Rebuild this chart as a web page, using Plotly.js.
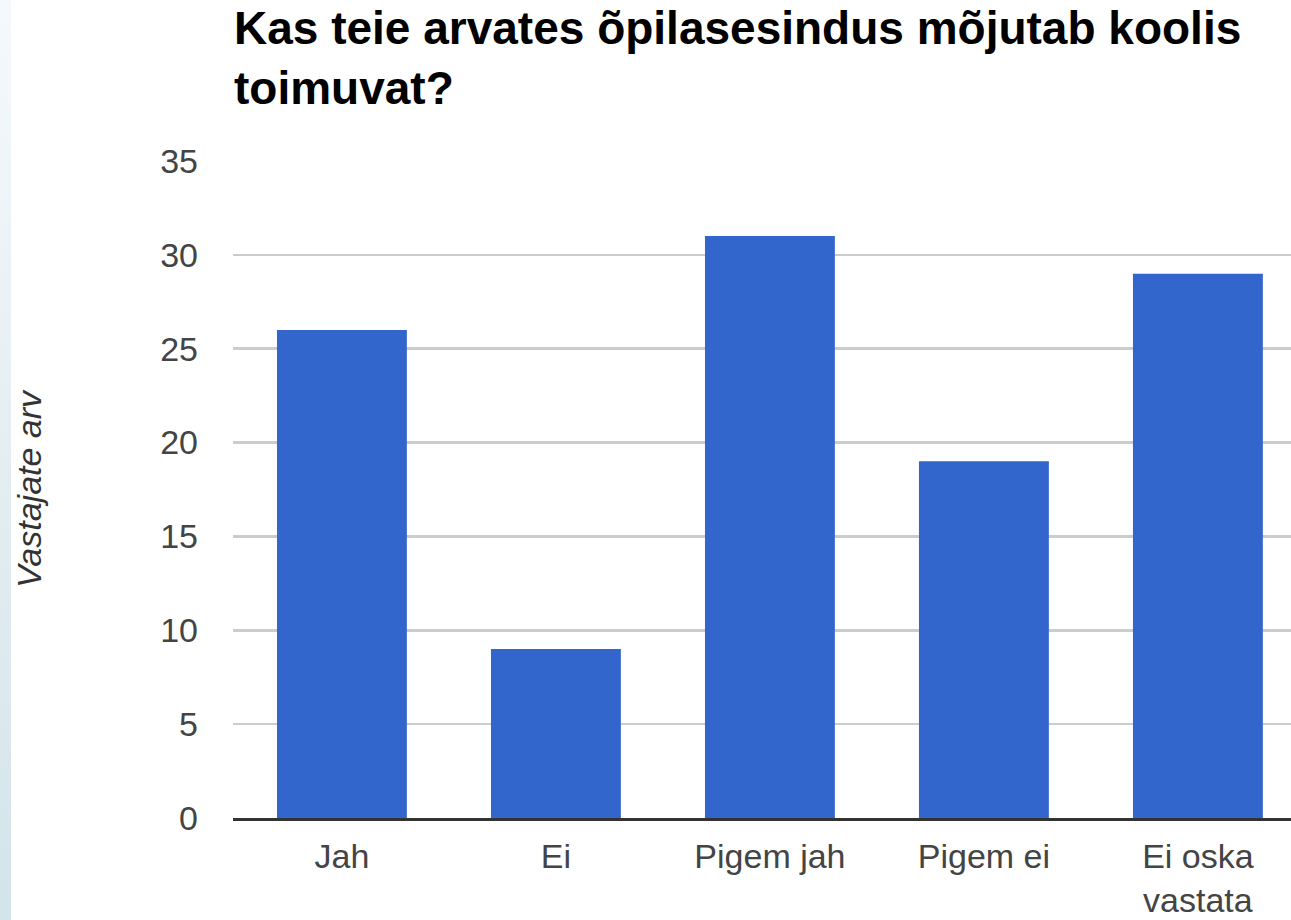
<!DOCTYPE html>
<html>
<head>
<meta charset="utf-8">
<script src="https://cdn.plot.ly/plotly-3.0.1.min.js"></script>
<style>
  html, body { margin: 0; padding: 0; background: #fff; }
  #wrap { position: relative; width: 1291px; height: 920px; }
  #strip { position: absolute; left: 0; top: 0; width: 11px; height: 920px;
           background: linear-gradient(to bottom, #f6f9fb 0%, #e4eef2 50%, #d3e4ea 100%); }
  #chart { position: absolute; left: 0; top: 0; width: 1291px; height: 920px; }
</style>
</head>
<body>
<div id="wrap">
  <div id="strip"></div>
  <div id="chart"></div>
</div>
<script>
const categories = ["Jah", "Ei", "Pigem jah", "Pigem ei", "Ei oska<br>vastata"];
const counts = [26, 9, 31, 19, 29];
const yTicks = [0, 5, 10, 15, 20, 25, 30, 35];
const chartTitle = "<b>Kas teie arvates õpilasesindus mõjutab koolis<br>toimuvat?</b>";
const yTitle = "Vastajate arv";

const trace = {
  type: "bar",
  x: categories,
  y: counts,
  marker: { color: "#3366cc" },
  hoverinfo: "x+y"
};

const layout = {
  width: 1291,
  height: 920,
  paper_bgcolor: "rgba(0,0,0,0)",
  plot_bgcolor: "rgba(0,0,0,0)",
  margin: { l: 233, r: 0, t: 161, b: 102, pad: 0 },
  bargap: 0.393,
  showlegend: false,
  font: { family: "Liberation Sans, Arial, sans-serif", size: 34, color: "#444" },
  annotations: [{
    text: chartTitle,
    xref: "paper", yref: "paper",
    x: 0, y: (818 - 1) / 657,
    xanchor: "left", yanchor: "top",
    align: "left",
    showarrow: false,
    borderpad: 0,
    font: { family: "Liberation Sans, Arial, sans-serif", size: 46, color: "#000" }
  }],
  xaxis: {
    type: "category",
    range: [-0.509, 4.435],
    showgrid: false,
    showline: true,
    linecolor: "#333",
    linewidth: 3,
    ticks: "",
    ticklabelstandoff: 6,
    tickfont: { size: 34, color: "#444" },
    fixedrange: true
  },
  yaxis: {
    range: [0, 35],
    tickvals: yTicks,
    ticktext: yTicks.map(String),
    showgrid: true,
    gridcolor: "#cccccc",
    gridwidth: 2.7,
    zeroline: false,
    showline: false,
    ticks: "",
    ticklabelstandoff: 34,
    tickfont: { size: 34, color: "#444" },
    title: {
      text: "<i>" + yTitle + "</i>",
      font: { size: 34, color: "#333" },
      standoff: 108
    },
    fixedrange: true
  }
};

Plotly.newPlot("chart", [trace], layout, { displayModeBar: false, staticPlot: true });
</script>
</body>
</html>
